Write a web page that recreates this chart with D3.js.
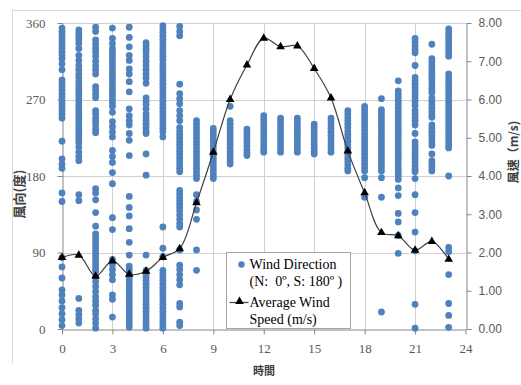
<!DOCTYPE html>
<html>
<head>
<meta charset="utf-8">
<script src="https://cdn.jsdelivr.net/npm/d3@7"></script>
<style>
  body { margin: 0; background: #fff; }
  svg { display: block; }
</style>
</head>
<body>
<svg id="chart"></svg>
<script>
// hourly average wind speed (m/s)
const hours = d3.range(0, 24);
const avgSpeed = [1.87, 1.93, 1.38, 1.78, 1.43, 1.51, 1.87, 2.10, 3.30, 4.62, 6.00, 6.90,
  7.60, 7.38, 7.40, 6.81, 6.04, 4.65, 3.56, 2.52, 2.44, 2.06, 2.29, 1.82];

// observed wind directions (deg) for each hour
const dirByHour = [
  [354, 350, 346, 342, 338, 334, 330, 326, 322, 318, 312, 305, 293, 289, 285, 281, 277, 273, 269, 265, 261, 257, 253, 248, 221, 200, 194, 189, 160, 150, 84, 73, 60, 46, 40, 33, 25, 18, 11, 4],
  [352, 348, 344, 340, 336, 330, 322, 316, 310, 305, 300, 296, 291, 287, 283, 279, 275, 271, 267, 263, 259, 255, 251, 247, 243, 239, 235, 231, 227, 223, 219, 214, 208, 203, 198, 158, 151, 36, 22, 17, 12, 7],
  [355, 350, 340, 335, 330, 326, 321, 315, 310, 305, 300, 285, 281, 276, 272, 257, 253, 248, 244, 240, 235, 231, 165, 160, 152, 137, 121, 112, 108, 104, 100, 96, 92, 88, 84, 80, 76, 72, 68, 62, 56, 50, 44, 38, 33, 28, 22, 18, 12, 7, 1],
  [354, 342, 336, 330, 326, 322, 318, 314, 310, 306, 302, 298, 294, 290, 286, 282, 278, 274, 270, 266, 262, 255, 244, 238, 232, 226, 210, 203, 196, 184, 171, 131, 117, 82, 76, 70, 64, 58, 40, 35, 14],
  [355, 343, 332, 322, 316, 306, 300, 291, 279, 259, 251, 245, 240, 230, 222, 204, 156, 143, 133, 118, 102, 87, 74, 70, 66, 62, 58, 54, 50, 46, 42, 38, 34, 30, 26, 22, 18, 14, 10, 6, 2],
  [337, 333, 329, 325, 320, 315, 310, 305, 300, 295, 289, 272, 268, 264, 259, 253, 249, 245, 241, 237, 233, 230, 206, 181, 87, 69, 65, 61, 57, 53, 49, 45, 41, 37, 33, 29, 25, 21, 17, 13, 9, 5, 1],
  [357, 353, 349, 345, 341, 337, 333, 329, 325, 321, 317, 312, 308, 304, 300, 296, 292, 288, 284, 280, 276, 272, 268, 264, 260, 256, 252, 248, 244, 240, 236, 232, 226, 120, 95, 85, 69, 65, 61, 57, 53, 49, 45, 41, 37, 33, 29, 25, 21, 17, 13, 9, 5, 1],
  [356, 350, 345, 288, 277, 271, 265, 257, 251, 245, 237, 233, 229, 225, 221, 217, 213, 209, 205, 201, 197, 193, 189, 185, 163, 159, 155, 151, 147, 143, 139, 134, 129, 124, 120, 93, 75, 70, 64, 58, 52, 30, 26, 8, 4],
  [245, 241, 237, 233, 229, 225, 221, 217, 213, 209, 205, 201, 197, 193, 189, 185, 181, 177, 158, 150, 140, 129, 93, 69],
  [236, 232, 228, 224, 220, 216, 212, 208, 204, 200, 196, 192, 188, 184, 180, 177],
  [262, 245, 241, 237, 233, 229, 225, 221, 217, 213, 209, 205, 201, 197, 194],
  [235, 231, 227, 223, 219, 215, 211, 207, 204],
  [251, 247, 243, 239, 235, 231, 227, 223, 219, 215, 211, 208],
  [248, 244, 240, 236, 232, 228, 224, 220, 216, 212, 208],
  [248, 244, 240, 236, 232, 228, 224, 220, 216, 212, 208],
  [241, 237, 233, 229, 225, 221, 217, 213, 209, 206],
  [248, 244, 240, 236, 232, 228, 224, 220, 216, 212, 208],
  [257, 253, 249, 245, 241, 237, 233, 229, 225, 221, 217, 213, 209, 205, 201, 197, 193, 189, 186],
  [262, 258, 254, 250, 246, 242, 238, 234, 230, 226, 222, 218, 214, 210, 206, 202, 198, 194, 190, 186, 178, 155],
  [271, 258, 254, 250, 246, 242, 238, 234, 230, 226, 222, 218, 214, 210, 206, 202, 198, 194, 190, 186, 178, 155, 20],
  [292, 280, 276, 272, 268, 264, 260, 256, 252, 248, 244, 240, 236, 232, 228, 224, 220, 216, 212, 208, 204, 200, 196, 192, 188, 184, 180, 176, 166, 157, 136, 126, 110, 89],
  [342, 338, 333, 329, 325, 310, 296, 292, 288, 284, 280, 276, 272, 268, 263, 257, 253, 249, 245, 240, 230, 220, 216, 212, 208, 204, 200, 196, 192, 188, 185, 177, 158, 137, 114, 92, 29, 1],
  [335, 318, 314, 310, 306, 302, 298, 294, 290, 286, 282, 278, 272, 268, 264, 260, 256, 252, 249, 240, 236, 232, 228, 224, 220, 216, 206, 198, 194, 190, 186],
  [353, 349, 345, 341, 337, 333, 329, 325, 321, 300, 296, 292, 288, 284, 280, 276, 272, 268, 264, 260, 256, 252, 248, 244, 240, 236, 232, 228, 224, 220, 216, 213, 180, 96, 91, 64, 30, 16, 2]
];

const xTicks = d3.range(0, 25, 3);
const dirTicks = [0, 90, 180, 270, 360];
const speedTicks = d3.range(0, 9);

const width = 521;
const height = 385;
const margin = { top: 23, right: 55, bottom: 56, left: 62 };

const serif = '"Liberation Serif", "Times New Roman", "DejaVu Serif", serif';
const sans = '"Liberation Sans", Arial, sans-serif';
const cjk = '"Noto Sans CJK TC", "Noto Sans CJK JP", sans-serif';

const svg = d3.select('#chart').attr('width', width).attr('height', height);

// outer chart frame (only top and left edges are visible)
svg.append('path')
  .attr('d', 'M12.5,363 V10.5 H521')
  .attr('fill', 'none')
  .attr('stroke', '#d9d9d9');

const x = d3.scaleLinear().domain([0, 24]).range([margin.left, width - margin.right - 0.5]);
const yDir = d3.scaleLinear().domain([0, 360]).range([height - margin.bottom, margin.top]);
const ySpeed = d3.scaleLinear().domain([0, 8]).range([height - margin.bottom, margin.top]);

// grid
const grid = svg.append('g').attr('stroke', '#d0d0d0').attr('stroke-width', 1);
grid.selectAll('.vg')
  .data(xTicks.filter(d => d > 0 && d < 24))
  .enter().append('line')
  .attr('x1', d => Math.round(x(d)) + 0.5)
  .attr('x2', d => Math.round(x(d)) + 0.5)
  .attr('y1', yDir(360))
  .attr('y2', yDir(0));
grid.selectAll('.hg')
  .data(dirTicks.filter(d => d > 0))
  .enter().append('line')
  .attr('x1', x(0))
  .attr('x2', x(24))
  .attr('y1', d => Math.round(yDir(d)) + 0.5)
  .attr('y2', d => Math.round(yDir(d)) + 0.5);

// axes
const axisColor = '#868686';
const labelColor = '#595959';

const gx = svg.append('g')
  .attr('transform', `translate(0,${Math.round(yDir(0)) + 0.5})`)
  .call(d3.axisBottom(x).tickValues(xTicks).tickSize(5).tickPadding(9).tickSizeOuter(0));

const gl = svg.append('g')
  .attr('transform', `translate(${Math.round(x(0)) + 0.5},0)`)
  .call(d3.axisLeft(yDir).tickValues(dirTicks).tickSize(5).tickPadding(12).tickSizeOuter(0));

const gr = svg.append('g')
  .attr('transform', `translate(${Math.round(x(24)) + 0.5},0)`)
  .call(d3.axisRight(ySpeed).tickValues(speedTicks).tickSize(5).tickPadding(7).tickSizeOuter(0)
    .tickFormat(d3.format('.2f')));

[gx, gl, gr].forEach(g => {
  g.selectAll('path, line').attr('stroke', axisColor);
  g.selectAll('text').attr('fill', labelColor);
});
gx.attr('font-family', serif).attr('font-size', 13);
gl.attr('font-family', serif).attr('font-size', 13);
gr.attr('font-family', sans).attr('font-size', 12);

// wind direction scatter
const dirPoints = [];
dirByHour.forEach((vals, h) => vals.forEach(v => dirPoints.push({ h: hours[h], v })));

svg.append('g').selectAll('circle')
  .data(dirPoints)
  .enter().append('circle')
  .attr('cx', d => x(d.h))
  .attr('cy', d => yDir(d.v))
  .attr('r', 3.4)
  .attr('fill', '#4f81bd');

// average wind speed line
const line = d3.line()
  .x((d, i) => x(hours[i]))
  .y(d => ySpeed(d))
  .curve(d3.curveCatmullRom.alpha(0.5));

svg.append('path')
  .datum(avgSpeed)
  .attr('d', line)
  .attr('fill', 'none')
  .attr('stroke', '#404040')
  .attr('stroke-width', 1.2);

const tri = d3.symbol(d3.symbolTriangle).size(32);
svg.append('g').selectAll('path')
  .data(avgSpeed)
  .enter().append('path')
  .attr('d', tri)
  .attr('transform', (d, i) => `translate(${x(hours[i])},${ySpeed(d)})`)
  .attr('fill', '#000');

// axis titles
svg.append('text')
  .attr('transform', 'translate(24,194) rotate(-90)')
  .attr('text-anchor', 'middle')
  .attr('font-family', cjk)
  .attr('font-weight', 'bold')
  .attr('font-size', 13)
  .attr('fill', '#404040')
  .text('風向(度)');

svg.append('text')
  .attr('transform', 'translate(518,152) rotate(-90)')
  .attr('text-anchor', 'middle')
  .attr('font-family', cjk)
  .attr('font-weight', 'bold')
  .attr('font-size', 12)
  .attr('fill', '#404040')
  .text('風速（m/s)');

svg.append('text')
  .attr('x', 264)
  .attr('y', 375)
  .attr('text-anchor', 'middle')
  .attr('font-family', cjk)
  .attr('font-weight', 'bold')
  .attr('font-size', 11)
  .attr('fill', '#404040')
  .text('時間');

// legend
const legend = svg.append('g').attr('transform', 'translate(226.5,252.5)');
legend.append('rect')
  .attr('width', 124)
  .attr('height', 76)
  .attr('fill', '#fff')
  .attr('stroke', '#a6a6a6');

legend.append('circle').attr('cx', 15).attr('cy', 12).attr('r', 3.2).attr('fill', '#4f81bd');
legend.append('line')
  .attr('x1', 3).attr('x2', 22).attr('y1', 50).attr('y2', 50)
  .attr('stroke', '#404040').attr('stroke-width', 1.2);
legend.append('path').attr('d', tri).attr('transform', 'translate(13,49)').attr('fill', '#000');

const legendLines = [
  ['Wind Direction', 16],
  ['(N:  0º, S: 180º )', 33],
  ['Average Wind', 54],
  ['Speed (m/s)', 71]
];
legend.selectAll('.lt')
  .data(legendLines)
  .enter().append('text')
  .attr('x', 23)
  .attr('y', d => d[1])
  .attr('font-family', serif)
  .attr('font-size', 14)
  .attr('fill', '#000')
  .attr('xml:space', 'preserve')
  .style('white-space', 'pre')
  .text(d => d[0]);
</script>
</body>
</html>
